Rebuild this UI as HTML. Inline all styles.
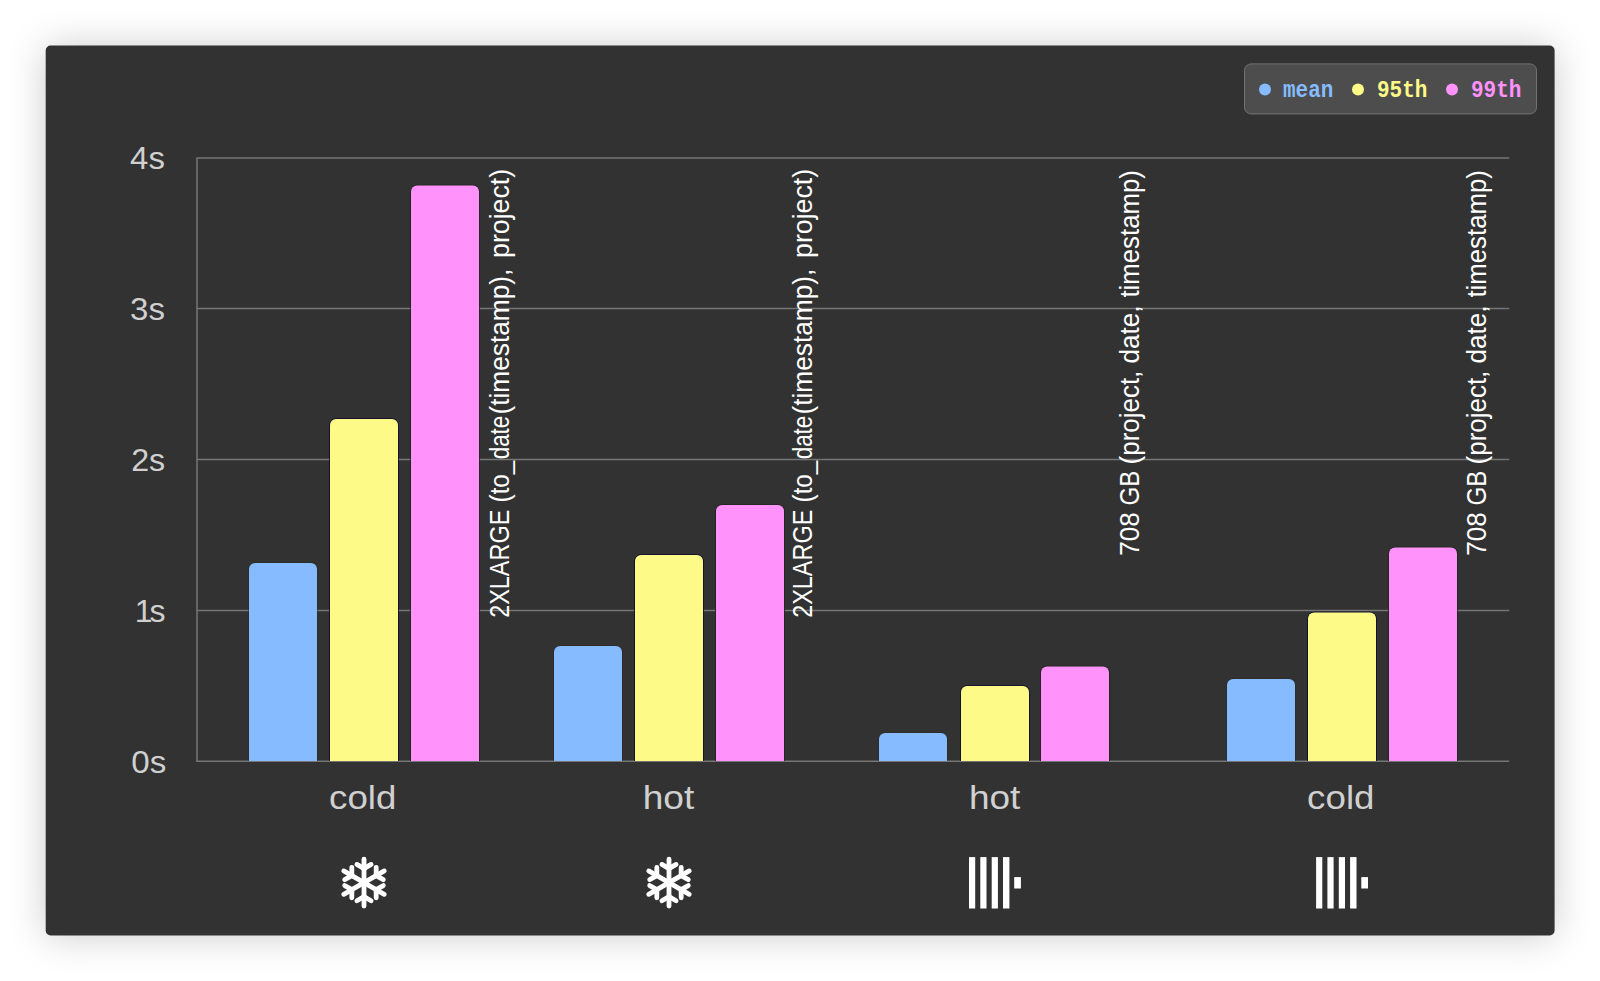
<!DOCTYPE html>
<html lang="en">
<head>
<meta charset="utf-8">
<title>Query latency: cold vs hot</title>
<style>
  html, body { margin: 0; padding: 0; background: #ffffff; }
  body { width: 1600px; height: 981px; position: relative; overflow: hidden;
         font-family: "Liberation Sans", sans-serif; }
  .card { position: absolute; left: 46px; top: 46px; width: 1508px; height: 889px;
          background: #323232; border-radius: 5px;
          box-shadow: 0 1px 38px rgba(0,0,0,0.21); }
  svg.chart { position: absolute; left: 0; top: 0; width: 1600px; height: 981px; }
  .ytick { font-family: "Liberation Sans", sans-serif; font-size: 32px; fill: #d0d0d0; font-kerning: none; }
  .xtick { font-family: "Liberation Sans", sans-serif; font-size: 34px; fill: #d0d0d0; font-kerning: none; }
  .note text { font-family: "Liberation Sans", sans-serif; font-size: 27px; fill: #ffffff; font-kerning: none; }
  .b1, .b2, .b3 { paint-order: stroke; stroke-width: 1.6; stroke-linejoin: round; }
  .b1 { stroke: #2a2822; stroke-width: 1; } .b2 { stroke: #0b0b30; } .b3 { stroke: #20241f; }
  .legend { position: absolute; left: 1244px; top: 63px; width: 291px; height: 49px;
            background: #4d4d4d; border: 1px solid #737373; border-radius: 7px; transform: translateY(0.4px); }
  .legend span { position: absolute; top: 3px; line-height: 49px; white-space: nowrap;
                 font-family: "Liberation Mono", monospace; font-weight: bold; font-size: 23px;
                 transform: scaleX(0.913); transform-origin: 0 50%; }
  .legend i { position: absolute; top: 19px; margin-left: -0.7px; width: 12px; height: 12px; border-radius: 50%; }
</style>
</head>
<body>
<div class="card"></div>

<svg class="chart" viewBox="0 0 1600 981">
  <rect x="45.7" y="45.6" width="1508.9" height="889.9" rx="5" fill="#323232"/>
  <!-- grid -->
  <g stroke="#767676" stroke-width="1.5" fill="none">
    <line x1="196.25" x2="1509.2" y1="158" y2="158"/>
    <line x1="197" x2="1509.2" y1="308.6" y2="308.6"/>
    <line x1="197" x2="1509.2" y1="459.5" y2="459.5"/>
    <line x1="197" x2="1509.2" y1="610.4" y2="610.4"/>
    <line x1="196.25" x2="1509.2" y1="761.2" y2="761.2"/>
    <line x1="197" x2="197" y1="158" y2="761.2"/>
  </g>

  <!-- y tick labels -->
  <text class="ytick" x="130.14" y="169.2" textLength="34.80" lengthAdjust="spacingAndGlyphs">4s</text>
  <text class="ytick" x="130.04" y="320.3" textLength="34.90" lengthAdjust="spacingAndGlyphs">3s</text>
  <text class="ytick" x="131.18" y="471.2" textLength="33.98" lengthAdjust="spacingAndGlyphs">2s</text>
  <text class="ytick" x="131.7" y="622.2"><tspan dx="3">1</tspan><tspan dx="-3">s</tspan></text>
  <text class="ytick" x="131.21" y="773.2" textLength="34.99" lengthAdjust="spacingAndGlyphs">0s</text>

  <clipPath id="plotclip"><rect x="190" y="150" width="1330" height="611"/></clipPath>
  <g clip-path="url(#plotclip)">
  <!-- bars: group 1 -->
  <path class="b1" fill="#86bcff" d="M249 764 V569 a6 6 0 0 1 6 -6 h56 a6 6 0 0 1 6 6 V764 Z"/>
  <path class="b2" fill="#fdfa87" d="M330 764 V425 a6 6 0 0 1 6 -6 h56 a6 6 0 0 1 6 6 V764 Z"/>
  <path class="b3" fill="#ff92fb" d="M411 764 V191.5 a6 6 0 0 1 6 -6 h56 a6 6 0 0 1 6 6 V764 Z"/>
  <!-- group 2 -->
  <path class="b1" fill="#86bcff" d="M554 764 V652 a6 6 0 0 1 6 -6 h56 a6 6 0 0 1 6 6 V764 Z"/>
  <path class="b2" fill="#fdfa87" d="M635 764 V561 a6 6 0 0 1 6 -6 h56 a6 6 0 0 1 6 6 V764 Z"/>
  <path class="b3" fill="#ff92fb" d="M716 764 V511 a6 6 0 0 1 6 -6 h56 a6 6 0 0 1 6 6 V764 Z"/>
  <!-- group 3 -->
  <path class="b1" fill="#86bcff" d="M879 764 V739 a6 6 0 0 1 6 -6 h56 a6 6 0 0 1 6 6 V764 Z"/>
  <path class="b2" fill="#fdfa87" d="M961 764 V692 a6 6 0 0 1 6 -6 h56 a6 6 0 0 1 6 6 V764 Z"/>
  <path class="b3" fill="#ff92fb" d="M1041 764 V672.5 a6 6 0 0 1 6 -6 h56 a6 6 0 0 1 6 6 V764 Z"/>
  <!-- group 4 -->
  <path class="b1" fill="#86bcff" d="M1227 764 V685 a6 6 0 0 1 6 -6 h56 a6 6 0 0 1 6 6 V764 Z"/>
  <path class="b2" fill="#fdfa87" d="M1308 764 V618.5 a6 6 0 0 1 6 -6 h56 a6 6 0 0 1 6 6 V764 Z"/>
  <path class="b3" fill="#ff92fb" d="M1389 764 V553.5 a6 6 0 0 1 6 -6 h56 a6 6 0 0 1 6 6 V764 Z"/>

  </g>

  <!-- rotated annotations -->
  <g class="note" transform="translate(509.4 616.7) rotate(-90)">
    <text x="-1.18" y="0" textLength="108.19" lengthAdjust="spacingAndGlyphs">2XLARGE</text>
    <text x="114.30" y="0" textLength="41.63" lengthAdjust="spacingAndGlyphs">(to_</text>
    <text x="157.46" y="0" textLength="43.43" lengthAdjust="spacingAndGlyphs">date</text>
    <text x="202.17" y="0" textLength="145.89" lengthAdjust="spacingAndGlyphs">(timestamp),</text>
    <text x="358.78" y="0" textLength="88.97" lengthAdjust="spacingAndGlyphs">project)</text>
  </g>
  <g class="note" transform="translate(811.8 616.7) rotate(-90)">
    <text x="-1.18" y="0" textLength="108.19" lengthAdjust="spacingAndGlyphs">2XLARGE</text>
    <text x="114.30" y="0" textLength="41.63" lengthAdjust="spacingAndGlyphs">(to_</text>
    <text x="157.46" y="0" textLength="43.43" lengthAdjust="spacingAndGlyphs">date</text>
    <text x="202.17" y="0" textLength="145.89" lengthAdjust="spacingAndGlyphs">(timestamp),</text>
    <text x="358.78" y="0" textLength="88.97" lengthAdjust="spacingAndGlyphs">project)</text>
  </g>
  <g class="note" transform="translate(1139 554.3) rotate(-90)">
    <text x="-1.34" y="0" textLength="43.47" lengthAdjust="spacingAndGlyphs">708</text>
    <text x="48.89" y="0" textLength="34.89" lengthAdjust="spacingAndGlyphs">GB</text>
    <text x="89.89" y="0" textLength="93.74" lengthAdjust="spacingAndGlyphs">(project,</text>
    <text x="190.91" y="0" textLength="57.83" lengthAdjust="spacingAndGlyphs">date,</text>
    <text x="256.71" y="0" textLength="127.49" lengthAdjust="spacingAndGlyphs">timestamp)</text>
  </g>
  <g class="note" transform="translate(1486 554.3) rotate(-90)">
    <text x="-1.34" y="0" textLength="43.47" lengthAdjust="spacingAndGlyphs">708</text>
    <text x="48.89" y="0" textLength="34.89" lengthAdjust="spacingAndGlyphs">GB</text>
    <text x="89.89" y="0" textLength="93.74" lengthAdjust="spacingAndGlyphs">(project,</text>
    <text x="190.91" y="0" textLength="57.83" lengthAdjust="spacingAndGlyphs">date,</text>
    <text x="256.71" y="0" textLength="127.49" lengthAdjust="spacingAndGlyphs">timestamp)</text>
  </g>

  <!-- x labels -->
  <text class="xtick" x="329.04" y="809" textLength="67.32" lengthAdjust="spacingAndGlyphs">cold</text>
  <text class="xtick" x="642.73" y="809" textLength="51.54" lengthAdjust="spacingAndGlyphs">hot</text>
  <text class="xtick" x="968.93" y="809" textLength="51.44" lengthAdjust="spacingAndGlyphs">hot</text>
  <text class="xtick" x="1307.14" y="809" textLength="67.32" lengthAdjust="spacingAndGlyphs">cold</text>

  <!-- snowflake icons -->
  <defs>
    <g id="flake" fill="none" stroke="#ffffff" stroke-width="4.8" stroke-linecap="round" stroke-linejoin="round">
      <g id="arm">
        <path d="M0 0 V-23.4"/>
        <path d="M-7.1 -18.2 L0 -14 L7.1 -18.2"/>
      </g>
      <use href="#arm" transform="rotate(60)"/>
      <use href="#arm" transform="rotate(120)"/>
      <use href="#arm" transform="rotate(180)"/>
      <use href="#arm" transform="rotate(240)"/>
      <use href="#arm" transform="rotate(300)"/>
    </g>
    <g id="house" fill="#ffffff">
      <rect x="0" y="0" width="6.2" height="51.4"/>
      <rect x="11.3" y="0" width="6.2" height="51.4"/>
      <rect x="22.7" y="0" width="6.2" height="51.4"/>
      <rect x="34" y="0" width="6.4" height="51.4"/>
      <rect x="45.2" y="20" width="6.7" height="11.4"/>
    </g>
  </defs>
  <use href="#flake" transform="translate(364 882.6)"/>
  <use href="#flake" transform="translate(669 882.6)"/>
  <use href="#house" transform="translate(969 857.1)"/>
  <use href="#house" transform="translate(1316.1 857.1)"/>
</svg>

<div class="legend">
  <i style="left:15px;background:#86bcff"></i><span style="left:38px;color:#86bcff">mean</span>
  <i style="left:108px;background:#fdfa87"></i><span style="left:132px;color:#fdfa87">95th</span>
  <i style="left:202px;background:#ff92fb"></i><span style="left:226px;color:#ff92fb">99th</span>
</div>
</body>
</html>
